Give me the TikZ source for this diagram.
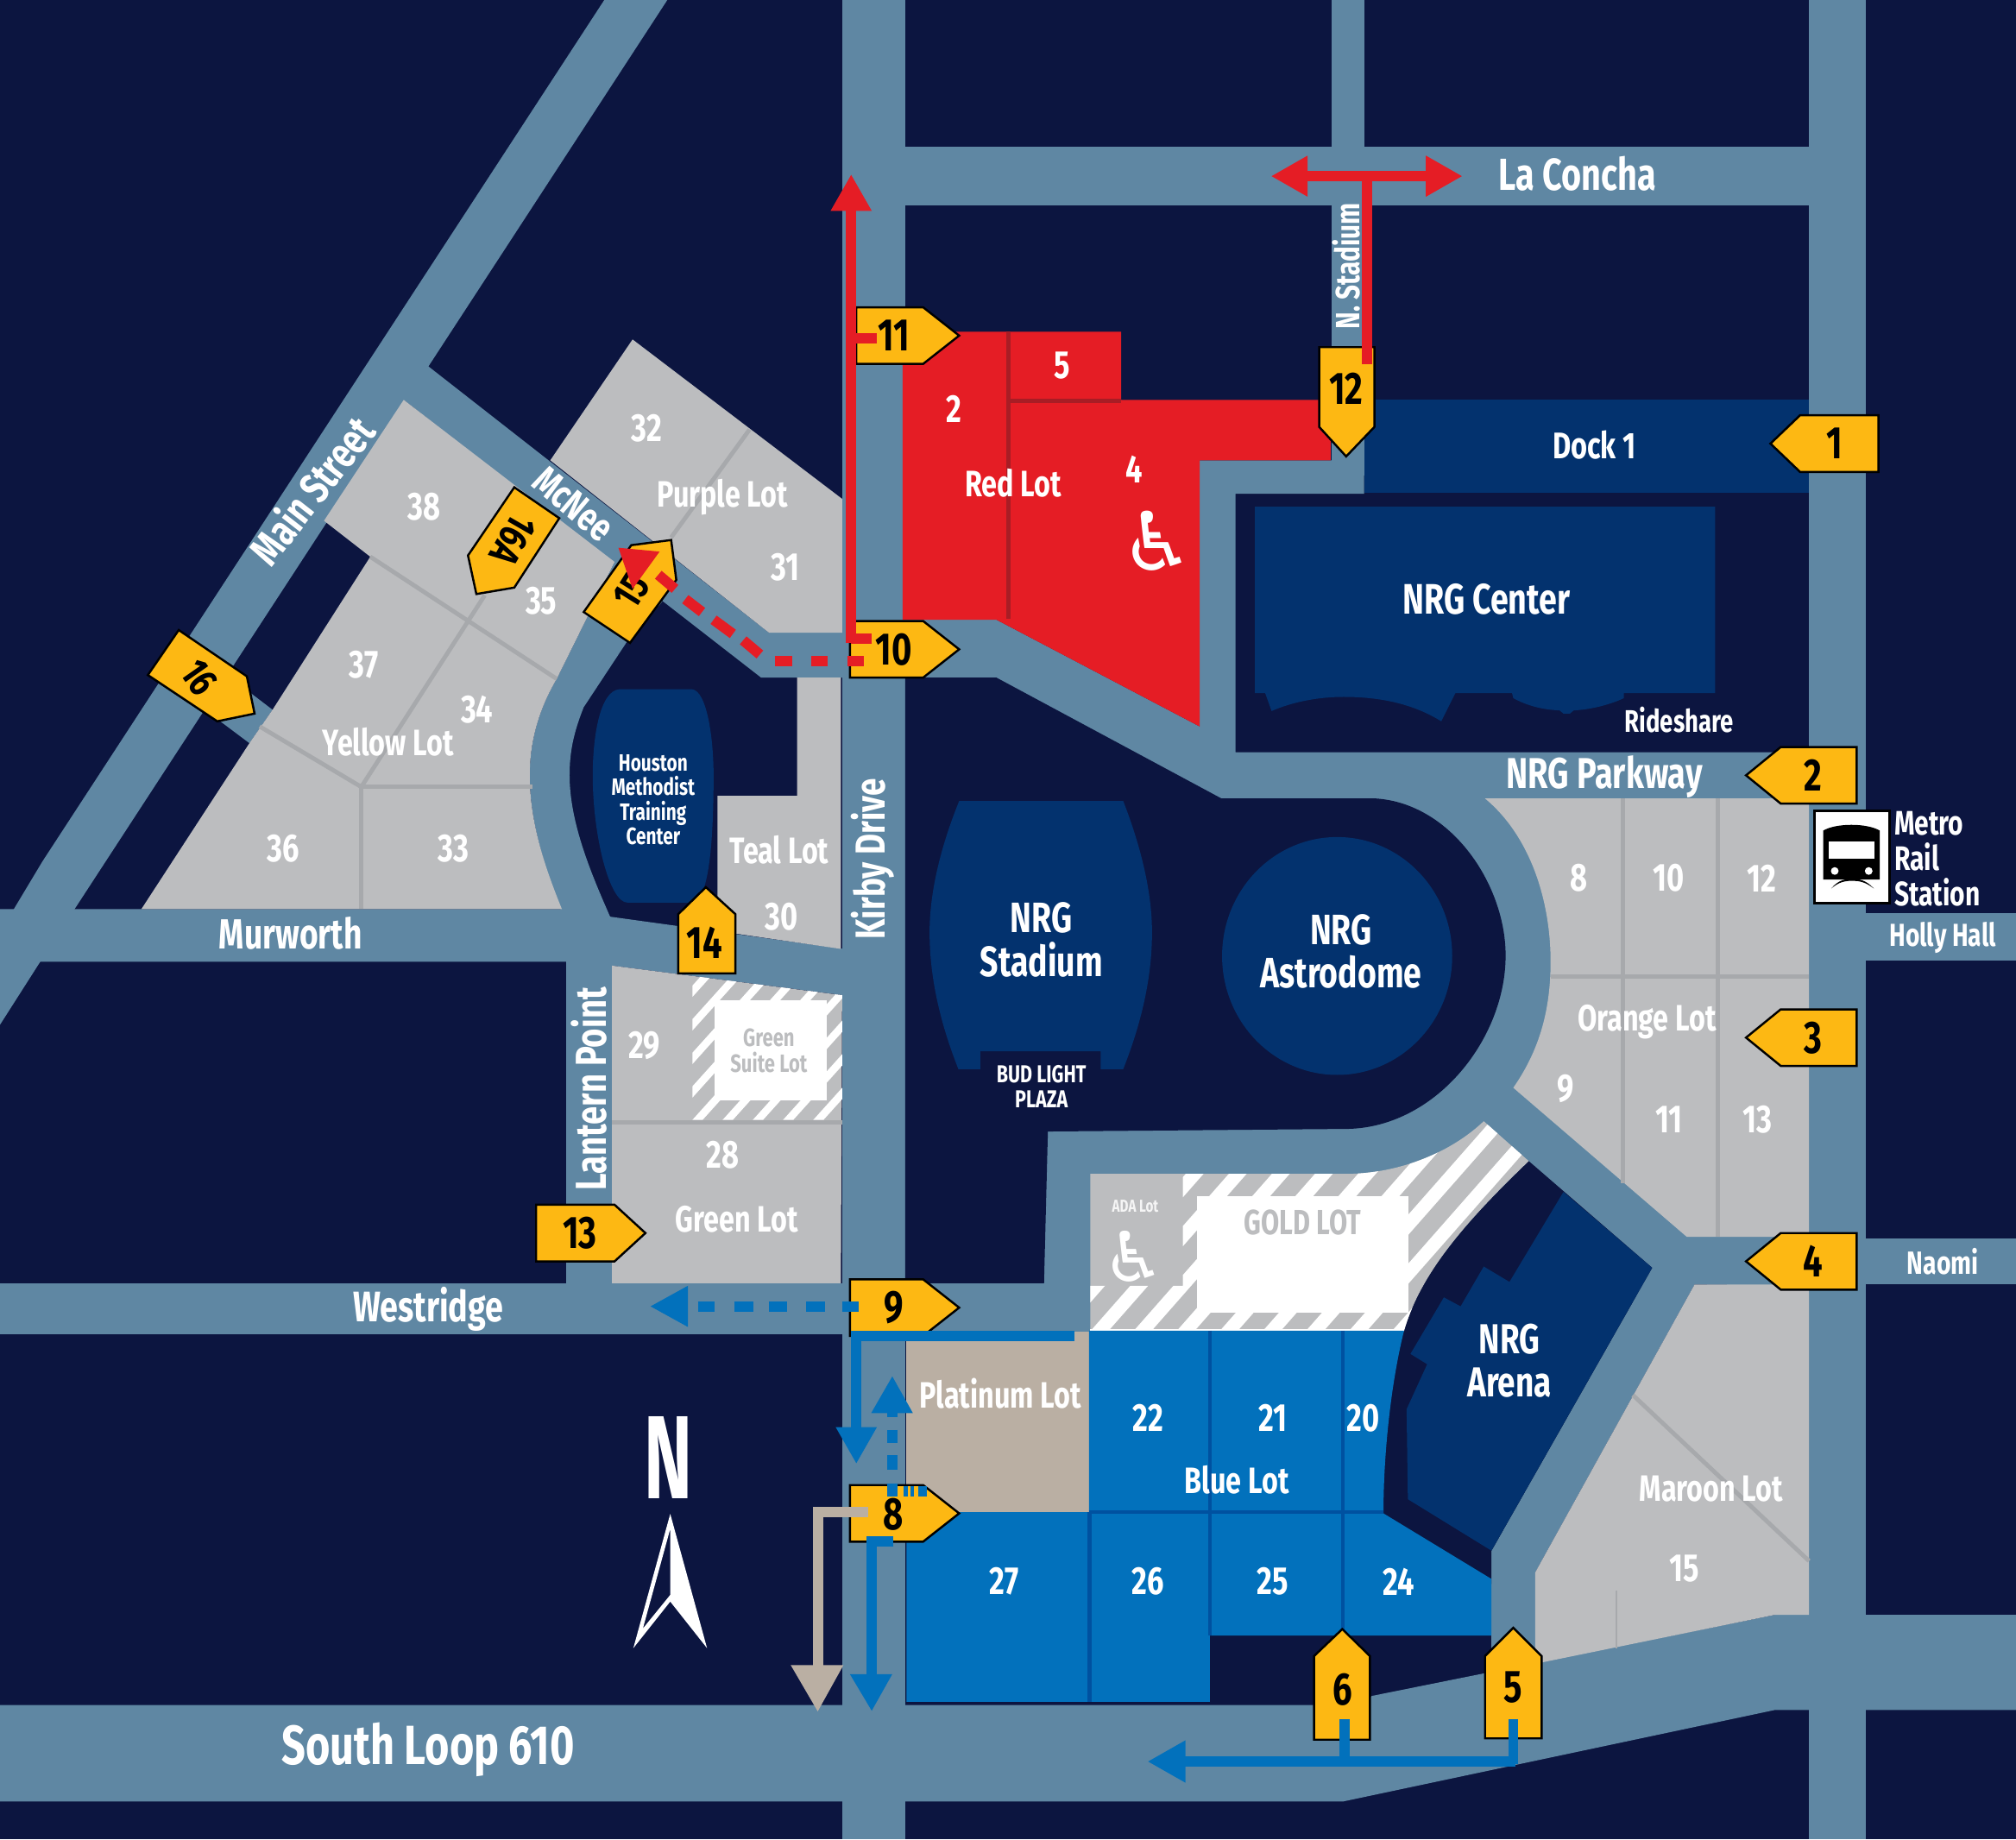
\documentclass[tikz,border=0pt]{standalone}
\usepackage{fontspec}
\setmainfont{Fira Sans}
\newfontfamily\cond[FakeStretch=0.76]{Fira Sans}
\newfontfamily\condn[FakeStretch=0.615]{Fira Sans}
\newfontfamily\symb{DejaVu Sans}
\definecolor{navy}{HTML}{0C1540}
\definecolor{road}{HTML}{5F87A3}
\definecolor{lotgray}{HTML}{BCBDBF}
\definecolor{lotline}{HTML}{A7A9AC}
\definecolor{lotblue}{HTML}{0271BC}
\definecolor{lotbluedk}{HTML}{0051A0}
\definecolor{bldg}{HTML}{03326E}
\definecolor{lotred}{HTML}{E51D25}
\definecolor{reddk}{HTML}{A81D25}
\definecolor{signy}{HTML}{FDB813}
\definecolor{lottan}{HTML}{BAAFA3}
\tikzset{
  roadfill/.style={fill=road,draw=none},
  gray lot/.style={fill=lotgray,draw=none},
  building/.style={fill=bldg,draw=none},
  lot divider/.style={draw=lotline,line width=1.4pt},
  blue divider/.style={draw=lotbluedk,line width=1.3pt},
  sign/.style={fill=signy,draw=black,line width=0.7pt,line join=miter},
  txt/.style={inner sep=0,outer sep=0,text=white,align=center,font=\bfseries\cond\fontsize{#1}{\dimexpr#1pt*103/100\relax}\selectfont},
  graytxt/.style={txt=#1,text=lotgray},
  signtxt/.style={inner sep=0,outer sep=0,text=black,font=\bfseries\cond\fontsize{#1}{#1}\selectfont},
  redline/.style={draw=lotred,line width=3.4pt},
  blueline/.style={draw=lotblue,line width=3.4pt},
  tanline/.style={draw=lottan,line width=3.4pt},
  redhead/.style={fill=lotred,draw=none},
  bluehead/.style={fill=lotblue,draw=none},
}
\begin{document}
\begin{tikzpicture}[x=0.0149cm,y=-0.0149cm]
\useasboundingbox (0,0) rectangle (1568,1430.4);
\fill[navy] (0,0) rectangle (1568,1430.4);
% ---------- roads
\fill[roadfill] (470,0) -- (519,0) -- (30,750) -- (0,797) -- (0,725) -- (33,670) -- cycle;
\fill[roadfill] (332,284) -- (598,492) -- (660,492) -- (660,527) -- (592,527) -- (314,311) -- cycle;
\fill[roadfill] (212,552) -- (194,578) -- (150,545) -- (170,520) -- cycle;
\fill[roadfill] (478,437) -- (515,468) -- (487,500) -- (454,550) .. controls (446,570) and (443,585) .. (443,603) .. controls (443,640) and (460,680) .. (475,714) -- (437,710) .. controls (424,675) and (412,640) .. (412,603) .. controls (412,575) and (420,550) .. (433,528) -- cycle;
\fill[roadfill] (0,707) -- (437,707) -- (475,713) -- (656,738) -- (656,774) -- (476,751) -- (440,748) -- (0,748) -- cycle;
\fill[roadfill] (440,740) rectangle (476,1005);
\fill[roadfill] (0,998) rectangle (850,1038);
\fill[roadfill] (655,0) rectangle (704,1430.4);
\fill[roadfill] (1407,0) rectangle (1451,1430.4);
\fill[roadfill] (1036,0) rectangle (1061,370);
\fill[roadfill] (655,114) rectangle (1407,160);
\fill[roadfill] (1407,710) rectangle (1568,747);
\fill[roadfill] (1300,963) rectangle (1568,999);
\fill[roadfill] (700,482) -- (775,482) -- (933,565) -- (933,358) -- (1061,358) -- (1061,384) -- (961,384) -- (961,585) -- (1410,585) -- (1410,1000) -- (1318,999) -- (1100,1040) -- (700,1040) -- cycle;
\fill[roadfill] (1285,986) -- (1318,999) -- (1194,1223) -- (1194,1300) -- (1160,1300) -- (1160,1206) -- cycle;
\fill[roadfill] (0,1326) -- (1060,1326) -- (1067,1319) -- (1380,1256) -- (1568,1256) -- (1568,1330) -- (1380,1330) -- (1045,1401) -- (0,1401) -- cycle;
% ---------- navy blocks over the road field
\fill[navy] (704,527) -- (775,527) -- (950,621) -- (1070,621) .. controls (1130,625) and (1172,690) .. (1171,745) .. controls (1170,810) and (1115,878) .. (1046,878) -- (815,880) -- (812,998) -- (704,998) -- cycle;
\fill[navy] (1189,903) -- (1285,986) -- (1160,1206) -- (1160,1232) -- (1075,1177) -- (1075,1100) .. controls (1078,1080) and (1083,1055) .. (1092,1034) .. controls (1105,990) and (1140,950) .. (1189,903) -- cycle;
% ---------- buildings
\fill[building] (746,623) -- (873.6,623) .. controls (888,660) and (896,695) .. (896,725) .. controls (896,760) and (888,795) .. (873.6,831.5) -- (856,831.5) -- (856,817.6) -- (762.4,817.6) -- (762.4,831.5) -- (745.4,831.5) .. controls (731,795) and (723,760) .. (723,725) .. controls (723,695) and (731,660) .. (746,623) -- cycle;
\fill[building] (1040,743.5) ellipse [x radius=89.5,y radius=92.5];
\fill[building] (976,394) -- (1334,394) -- (1334,539) -- (1263,539) -- (1263,543) .. controls (1250,549) and (1235,552) .. (1224,552.5) -- (1221,555) -- (1216,555) -- (1213,552.5) .. controls (1200,552) and (1188,549) .. (1177,543) -- (1176,539) -- (1132,539) -- (1121,561) .. controls (1100,548) and (1075,542) .. (1045,542) .. controls (1025,542) and (1005,546) .. (989,553) -- (984,539) -- (976,539) -- cycle;
\fill[building] (1061,311) rectangle (1407,383);
\fill[building] (1216,927) -- (1285,986) -- (1160,1206) -- (1095,1166) -- (1094,1096) -- (1110,1061) -- (1097,1053) -- (1123,1009) -- (1136,1016) -- (1154,985) -- (1174,997) -- cycle;
\fill[building] (482,536) -- (538,536) .. controls (550,537) and (555,575) .. (555,603) .. controls (555,650) and (552,702) .. (538,702) -- (488,702) .. controls (474,702) and (461,650) .. (461,603) .. controls (461,575) and (466,537) .. (482,536) -- cycle;
% ---------- red lot
\fill[lotred] (702,258) -- (872,258) -- (872,311) -- (1035,311) -- (1035,358) -- (933,358) -- (933,565) -- (775,482) -- (702,482) -- cycle;
\draw[draw=reddk,line width=1.4pt] (784.5,258) -- (784.5,481);
\draw[draw=reddk,line width=1.4pt] (784.5,311.5) -- (872,311.5);
% ---------- gray lots
\fill[gray lot] (314,311) -- (478,437) -- (433,528) .. controls (420,550) and (412,575) .. (412,603) .. controls (412,640) and (424,675) .. (437,707) -- (110,707) -- (194,578) -- (212,552) -- (288,433) -- (252,405) -- cycle;
\draw[lot divider] (288,433) -- (433,528);
\draw[lot divider] (202,565) -- (281,612) -- (377,463);
\draw[lot divider] (281,612) -- (414,612);
\draw[lot divider] (281,612) -- (281,707);
\fill[gray lot] (428,358) -- (492,264) -- (655,388) -- (655,492) -- (598,492) -- cycle;
\draw[lot divider] (583,334) -- (522,418);
\fill[gray lot] (620,527) -- (654,527) -- (654,738) -- (558,724) -- (558,619) -- (620,619) -- cycle;
% green lot
\fill[gray lot] (476,751) -- (655,774) -- (654,998) -- (476,998) -- cycle;
\begin{scope}
\clip (538.5,759) -- (655,774) -- (655,871) -- (538.5,871) -- cycle;
\foreach \k in {-5,...,9}{
  \draw[white,line width=2.5pt] ({542.5+23.5*\k+0.9*130},{871-130}) -- ({542.5+23.5*\k-0.9*10},{871+10});
}
\end{scope}
\fill[white] (556,778) rectangle (643,856);
\draw[lot divider] (476,873) -- (655,873);
% orange lot
\fill[gray lot] (1155,621) -- (1407,621) -- (1407,962) -- (1312,962) -- (1177,846) .. controls (1195,820) and (1206,790) .. (1206,748) .. controls (1206,700) and (1190,650) .. (1155,621) -- cycle;
\draw[lot divider] (1262,621) -- (1262,920);
\draw[lot divider] (1336,621) -- (1336,962);
\draw[lot divider] (1206,759.5) -- (1407,759.5);
% maroon lot
\fill[gray lot] (1318,999) -- (1407,999) -- (1407,1256) -- (1380,1256) -- (1194,1294) -- (1194,1223) -- cycle;
\draw[lot divider] (1270,1085) -- (1407,1214);
\draw[draw=lotline,line width=0.5pt] (1257,1237) -- (1257,1282);
% gold lot
\fill[gray lot] (848,913) -- (1046,913) .. controls (1090,913) and (1130,895) .. (1154,872) -- (1189,903) .. controls (1140,950) and (1105,990) .. (1092,1035) -- (848,1035) -- cycle;
\begin{scope}
\clip (848,913) -- (1046,913) .. controls (1090,913) and (1130,895) .. (1154,872) -- (1189,903) .. controls (1140,950) and (1105,990) .. (1092,1035) -- (848,1035) -- cycle;
\clip (920,905) -- (1200,860) -- (1200,1040) -- (847,1040) -- (847,1000) -- (920,1000) -- cycle;
\foreach \k in {-5,...,9}{
  \draw[white,line width=4.4pt] ({962.6+33.5*\k+0.88*60},{913-60}) -- ({962.6+33.5*\k-0.88*130},{913+130});
}
\end{scope}
\fill[white] (931,930) rectangle (1095.5,1021);
\fill[white] (848,1034) rectangle (1092,1035.5);
% ---------- platinum and blue lots
\fill[lottan] (705,1036) rectangle (847,1176);
\fill[lotblue] (847,1035) -- (1092,1035) .. controls (1082,1075) and (1076,1130) .. (1076,1177) -- (1160,1228) -- (1160,1272) -- (941,1272) -- (941,1323.5) -- (705,1323.5) -- (705,1176) -- (847,1176) -- cycle;
\draw[blue divider] (847,1176) -- (1076,1176);
\draw[blue divider] (847.5,1176) -- (847.5,1323.5);
\draw[blue divider] (941,1035) -- (941,1272);
\draw[blue divider] (1044.5,1035) -- (1044.5,1272);
% ---------- signs
\draw[sign] (666,239) -- (718,239) -- (746,261) -- (718,283) -- (666,283) -- cycle;
\draw[sign] (661,483) -- (718,483) -- (746,505) -- (718,527) -- (661,527) -- cycle;
\draw[sign] (661,995) -- (718,995) -- (746,1017) -- (718,1039) -- (661,1039) -- cycle;
\draw[sign] (661,1155) -- (718,1155) -- (746,1177) -- (718,1199) -- (661,1199) -- cycle;
\draw[sign] (417,937) -- (478,937) -- (502,959) -- (478,981) -- (417,981) -- cycle;
\draw[sign] (1461,323) -- (1400,323) -- (1377,345) -- (1400,367) -- (1461,367) -- cycle;
\draw[sign] (1444,581) -- (1385,581) -- (1358,603) -- (1385,625) -- (1444,625) -- cycle;
\draw[sign] (1444,785) -- (1385,785) -- (1358,807) -- (1385,829) -- (1444,829) -- cycle;
\draw[sign] (1444,959) -- (1385,959) -- (1358,981) -- (1385,1003) -- (1444,1003) -- cycle;
\draw[sign] (1026,270) -- (1069,270) -- (1069,332) -- (1047,355) -- (1026,332) -- cycle;
\draw[sign] (527.5,757) -- (572,757) -- (572,711) -- (549,690) -- (527.5,711) -- cycle;
\draw[sign] (1022,1353) -- (1065.5,1353) -- (1065.5,1288) -- (1044,1267) -- (1022,1288) -- cycle;
\draw[sign] (1155,1352) -- (1199,1352) -- (1199,1288) -- (1177,1266) -- (1155,1288) -- cycle;
\draw[sign] (139,490) -- (192,526) -- (198,555) -- (169,561) -- (115,525) -- cycle;
\draw[sign] (400,379) -- (435,403) -- (400,457) -- (370.5,462) -- (364,432) -- cycle;
\draw[sign] (522,420) -- (526,451) -- (490,500) -- (454,476) -- (491,424) -- cycle;
% ---------- sign numbers
\foreach \n/\x/\y/\t in {s11/695/261/11,s10/695/505/10,s9/695/1017/9,s8/695/1178/8,s13/451/959/13,s14/548/733/14,s12/1047/302/12,s1/1427/345/1,s2/1410/603/2,s3/1410/807/3,s4/1410/981/4,s6/1044/1314/6,s5/1177/1312/5}{
  \node[signtxt=15] (\n) at (\x,\y) {\t};
}
\node[signtxt=13.5,rotate=-55] (s16) at (155,527) {16};
\node[signtxt=13.5,rotate=-120] (s16a) at (399,420) {16A};
\node[signtxt=13.5,rotate=58] (s15) at (491,460) {15};
% ---------- route lines
\draw[redline] (662,500) -- (662,160);
\fill[redhead] (662,136) -- (678,164) -- (646,164) -- cycle;
\draw[redline] (662,263) -- (682,263);
\draw[redline] (662,497) -- (678,497);
\draw[redline] (1063,283) -- (1063,137);
\draw[redline] (1012,137) -- (1114,137);
\fill[redhead] (989,137) -- (1017,121) -- (1017,153) -- cycle;
\fill[redhead] (1137,137) -- (1109,121) -- (1109,153) -- cycle;
\foreach \a/\b in {659/672,631/644,603/616}{\draw[redline] (\a,514) -- (\b,514);}
\draw[redline] (591,509) -- (578,498);
\draw[redline] (570,493) -- (555,482);
\draw[redline] (546,476) -- (533,466);
\draw[redline] (525,458) -- (512,447);
\fill[redhead] (481,426) -- (513,429) -- (492,458) -- cycle;
\foreach \a/\b in {543/556,571/586,598/612,627/642,655/668}{\draw[blueline] (\a,1016) -- (\b,1016);}
\fill[bluehead] (506,1016) -- (535,1000) -- (535,1032) -- cycle;
\draw[blueline] (836,1039) -- (666,1039) -- (666,1112);
\fill[bluehead] (666,1138) -- (650,1110) -- (682,1110) -- cycle;
\fill[bluehead] (694,1070.5) -- (710,1099) -- (677.6,1099) -- cycle;
\foreach \a/\b in {1096/1102,1112/1122,1132/1143,1153.5/1164}{\draw[blueline] (694,\a) -- (694,\b);}
\fill[lotblue] (703,1156) rectangle (706,1164);
\fill[lotblue] (708,1156) rectangle (711,1164);
\fill[lotblue] (714,1156) rectangle (721,1164);
\draw[tanline] (675,1176) -- (636,1176) -- (636,1297);
\fill[lottan] (636,1331) -- (615,1295) -- (656,1295) -- cycle;
\draw[blueline] (695,1199) -- (678,1199) -- (678,1304);
\fill[bluehead] (678,1330.5) -- (661,1302) -- (694,1302) -- cycle;
\draw[blueline] (1046,1337) -- (1046,1370);
\draw[blueline] (1177,1337) -- (1177,1371.7) ;
\draw[blueline] (1178.7,1370) -- (920,1370);
\fill[bluehead] (893,1370) -- (922,1353.5) -- (922,1386.5) -- cycle;
% ---------- compass
\node[inner sep=0,text=white,font=\bfseries\condn\fontsize{39}{39}\selectfont] (north) at (519.8,1134) {N};
\fill[white,even odd rule] (521.3,1177.4) -- (549.9,1281.8) -- (521.3,1245.6) -- (492.6,1281.8) -- cycle (521.3,1189) -- (521.3,1240.4) -- (500,1266.6) -- cycle;
% ---------- metro icon
\draw[fill=white,draw=black,line width=0.8pt] (1411,630.4) rectangle (1469.8,702.4);
\fill[black] (1418,684) -- (1418,646) .. controls (1428,640) and (1452,640) .. (1462,646) -- (1462,684) -- cycle;
\fill[white] (1422,654.3) rectangle (1458,667.7);
\fill[white] (1427,677.4) circle (3);
\fill[white] (1453.4,677.4) circle (3);
\fill[black] (1424.3,691) .. controls (1430,684) and (1436,683.5) .. (1440.7,683.5) .. controls (1445,683.5) and (1451,684) .. (1457.4,691) .. controls (1451,686) and (1446,685) .. (1440.7,685) .. controls (1435,685) and (1430,686) .. (1424.3,691) -- cycle;
% ---------- wheelchair glyphs
\node[inner sep=0,text=white,font=\symb\fontsize{27}{27}\selectfont] (wcred) at (900,421) {♿};
\node[inner sep=0,text=white,font=\symb\fontsize{23}{23}\selectfont] (wcada) at (882,977) {♿};
% ---------- road labels
\node[txt=14.8] (lconcha) at (1227,135) {La Concha};
\node[txt=11.1,rotate=90] (nstad) at (1047,207) {N. Stadium};
\node[txt=14.2,rotate=52] (mainst) at (242,381) {Main Street};
\node[txt=13,rotate=-40] (mcnee) at (446,392) {McNee};
\node[txt=13.8,rotate=90] (kirby) at (679,668) {Kirby Drive};
\node[txt=13.9] (murw) at (226,726) {Murworth};
\node[txt=14.3,rotate=90] (lantern) at (458,847) {Lantern Point};
\node[txt=14.1] (westr) at (333,1018) {Westridge};
\node[txt=18.2] (sloop) at (333,1361) {South Loop 610};
\node[txt=14.2] (nrgpk) at (1248,604) {NRG Parkway};
\node[txt=10.5] (holly) at (1511,729) {Holly Hall};
\node[txt=10.6] (naomi) at (1511,981) {Naomi};
\node[txt=11.2,align=left,anchor=west] (metro) at (1473.5,668) {Metro\\Rail\\Station};
% ---------- building labels
\node[txt=12.2] (dock) at (1240,346) {Dock 1};
\node[txt=14.06] (center) at (1156,466) {NRG Center};
\node[txt=10.3] (rides) at (1306,560) {Rideshare};
\node[txt=14] (stad) at (810,731) {NRG\\Stadium};
\node[txt=8.06] (plaza) at (810,845) {BUD LIGHT\\PLAZA};
\node[txt=14] (astro) at (1043,740) {NRG\\Astrodome};
\node[txt=13.8] (arena) at (1174,1058) {NRG\\Arena};
\node[txt=7.8] (meth) at (508,622) {Houston\\Methodist\\Training\\Center};
% ---------- lot labels
\node[txt=12.9] (r2) at (742,318) {2};
\node[txt=12.9] (r5) at (826,284) {5};
\node[txt=12.9] (r4) at (882,365) {4};
\node[txt=12.1] (redlot) at (788,376) {Red Lot};
\foreach \n/\x/\y/\t in {o8/1228/683/8,o10/1298/683/10,o12/1370/683/12,o9/1218/847/9,o11/1298/871/11,o13/1367/871/13,p32/503/333/32,p31/611/441/31,y38/330/394/38,y35/421/467/35,y37/283/517/37,y34/371/552/34,y36/220/660/36,y33/353/660/33,t30/608/713/30,g29/501/813/29,g28/562/898/28,b22/893/1103/22,b21/990/1103/21,b20/1060/1103/20,b27/781/1230/27,b26/893/1230/26,b25/990/1230/25,b24/1088/1230/24,m15/1310/1220/15}{
  \node[txt=12.9] (\n) at (\x,\y) {\t};
}
\node[txt=12.1] (orange) at (1281,795) {Orange Lot};
\node[txt=12.1] (purple) at (562,387) {Purple Lot};
\node[txt=12.1] (yellow) at (302,577) {Yellow Lot};
\node[txt=12.1] (teal) at (606,661) {Teal Lot};
\node[txt=12.1] (green) at (573,948) {Green Lot};
\node[graytxt=8.25] (suite) at (598,817) {Green\\Suite Lot};
\node[txt=5.7,text=white!85!lotgray] (ada) at (883,938) {ADA Lot};
\node[graytxt=11.5] (gold) at (1013,951) {GOLD LOT};
\node[txt=12.1] (plat) at (778,1084) {Platinum Lot};
\node[txt=12.1] (blue) at (962,1151) {Blue Lot};
\node[txt=12.1] (maroon) at (1331,1158) {Maroon Lot};
\end{tikzpicture}
\end{document}
